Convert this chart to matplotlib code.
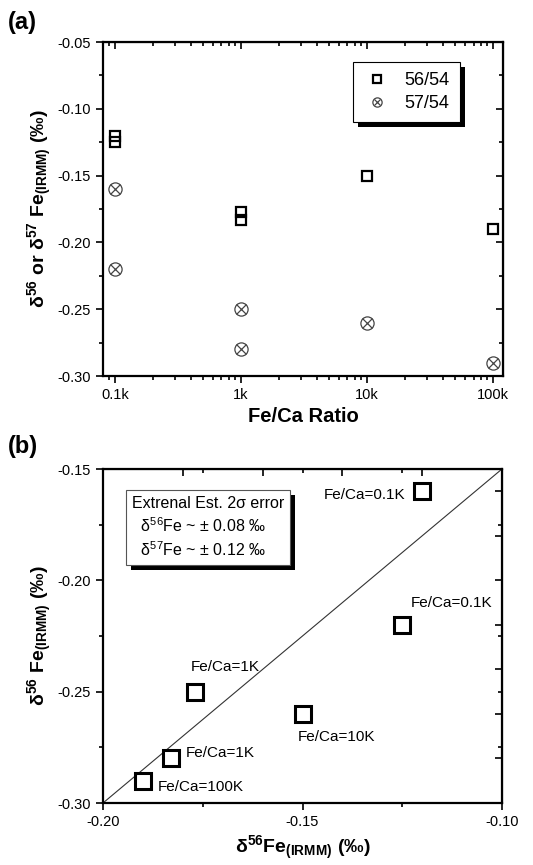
import numpy as np
import matplotlib
matplotlib.use("Agg")
import matplotlib.pyplot as plt
from matplotlib.ticker import MultipleLocator, LogLocator, NullFormatter
from matplotlib.legend_handler import HandlerTuple
from matplotlib.patches import Rectangle
from matplotlib.transforms import IdentityTransform

plt.rcParams['font.family'] = ['Liberation Sans', 'DejaVu Sans']
plt.rcParams['mathtext.default'] = 'regular'
plt.rcParams['axes.unicode_minus'] = False

# panel (a): delta values vs Fe/Ca ratio
ratio_56 = [100, 100, 1000, 1000, 10000, 100000]
d56 = [-0.120, -0.125, -0.177, -0.183, -0.150, -0.190]
ratio_57 = [100, 100, 1000, 1000, 10000, 100000]
d57 = [-0.160, -0.220, -0.250, -0.280, -0.260, -0.290]
ratio_ticks = [100, 1000, 10000, 100000]
ratio_labels = ['0.1k', '1k', '10k', '100k']

# panel (b): comparison
b_x = [-0.120, -0.125, -0.177, -0.150, -0.183, -0.190]
b_y = [-0.160, -0.220, -0.250, -0.260, -0.280, -0.290]
b_labels = ['Fe/Ca=0.1K', 'Fe/Ca=0.1K', 'Fe/Ca=1K', 'Fe/Ca=10K', 'Fe/Ca=1K', 'Fe/Ca=100K']
# label offsets in pixels (dx, dy, ha)
b_offsets = [(-17, -4, 'right'), (8, 22, 'left'), (-4, 25, 'left'),
             (-5, -23, 'left'), (15, 5, 'left'), (15, -6, 'left')]
line_x = [-0.20, -0.10]
line_y = [-0.30, -0.15]

W, H = 533, 865
fig = plt.figure(figsize=(W / 100, H / 100), dpi=100)


def add_inner_ticks(ax, xminor, yminor, logx=False):
    top = ax.secondary_xaxis('top')
    right = ax.secondary_yaxis('right')
    for sec in (top, right):
        sec.tick_params(which='both', direction='in', labeltop=False,
                        labelright=False, width=1.2)
        sec.tick_params(which='major', length=5)
        sec.tick_params(which='minor', length=3)
    if logx:
        top.xaxis.set_major_locator(LogLocator(base=10))
        top.xaxis.set_minor_locator(LogLocator(base=10, subs=np.arange(2, 10)))
        top.xaxis.set_minor_formatter(NullFormatter())
    else:
        top.xaxis.set_minor_locator(MultipleLocator(xminor))
    right.yaxis.set_minor_locator(MultipleLocator(yminor))
    top.set_xticklabels([])
    right.set_yticklabels([])


def style_axes(ax):
    for s in ax.spines.values():
        s.set_linewidth(1.6)
    ax.tick_params(which='both', direction='out', width=1.2, labelsize=10.5)
    ax.tick_params(which='major', length=5)
    ax.tick_params(which='minor', length=3)


# ---------- panel (a)
ax = fig.add_axes([103 / W, 1 - 376 / H, 400 / W, 334 / H])
ax.set_xscale('log')
ax.set_xlim(80.3, 120000)
ax.set_ylim(-0.30, -0.05)
sq = ax.plot(ratio_56, d56, ls='none', marker='s', ms=7.5, mfc='none',
             mec='black', mew=1.6, label='56/54')[0]
c1 = ax.plot(ratio_57, d57, ls='none', marker='o', ms=9.5, mfc='none',
             mec='#444444', mew=0.9)[0]
c2 = ax.plot(ratio_57, d57, ls='none', marker='x', ms=6.5,
             mec='#444444', mew=0.9)[0]
ax.set_xticks(ratio_ticks)
ax.set_xticklabels(ratio_labels)
ax.xaxis.set_minor_locator(LogLocator(base=10, subs=np.arange(2, 10)))
ax.xaxis.set_minor_formatter(NullFormatter())
ax.yaxis.set_major_locator(MultipleLocator(0.05))
ax.yaxis.set_minor_locator(MultipleLocator(0.025))
ax.yaxis.set_major_formatter(plt.FuncFormatter(lambda v, p: f'{v:.2f}'))
style_axes(ax)
add_inner_ticks(ax, None, 0.025, logx=True)
ax.set_xlabel('Fe/Ca Ratio', fontsize=14.5, fontweight='bold', labelpad=4)
ax.set_ylabel(r'$\delta^{56}$ or $\delta^{57}$ Fe$_{(IRMM)}$ (‰)',
              fontsize=14, fontweight='bold', labelpad=3)
leg = ax.legend([sq, (c1, c2)], ['56/54', '57/54'],
                handler_map={tuple: HandlerTuple(ndivide=1)},
                loc='upper left', bbox_to_anchor=(0.625, 0.94),
                borderaxespad=0, fontsize=13, frameon=True, fancybox=False,
                edgecolor='black', framealpha=1, handlelength=1.6,
                handletextpad=0.7, borderpad=0.55, labelspacing=0.35,
                markerscale=0.7)
leg.get_frame().set_linewidth(0.8)
leg.set_zorder(6)
fig.text(8 / W, 1 - 22 / H, '(a)', fontsize=17, fontweight='bold', va='center')

# ---------- panel (b)
bx = fig.add_axes([103 / W, 1 - 803 / H, 399 / W, 334 / H])
bx.set_xlim(-0.20, -0.10)
bx.set_ylim(-0.30, -0.15)
bx.plot(line_x, line_y, color='#333333', lw=0.8)
bx.plot(b_x, b_y, ls='none', marker='s', ms=11.5, mfc='none',
        mec='black', mew=2.2, zorder=3)
for xv, yv, lab, (dx, dy, ha) in zip(b_x, b_y, b_labels, b_offsets):
    bx.annotate(lab, (xv, yv), xytext=(dx * 0.72, dy * 0.72),
                textcoords='offset points', ha=ha, va='center', fontsize=11)
bx.xaxis.set_major_locator(MultipleLocator(0.05))
bx.xaxis.set_minor_locator(MultipleLocator(0.025))
bx.yaxis.set_major_locator(MultipleLocator(0.05))
bx.yaxis.set_minor_locator(MultipleLocator(0.025))
bx.xaxis.set_major_formatter(plt.FuncFormatter(lambda v, p: f'{v:.2f}'))
bx.yaxis.set_major_formatter(plt.FuncFormatter(lambda v, p: f'{v:.2f}'))
style_axes(bx)
add_inner_ticks(bx, 0.025, 0.025)
bx.set_xlabel(r'$\delta^{56}$Fe$_{(IRMM)}$ (‰)', fontsize=14,
              fontweight='bold', labelpad=4)
bx.set_ylabel(r'$\delta^{56}$ Fe$_{(IRMM)}$ (‰)', fontsize=14,
              fontweight='bold', labelpad=3)
box_txt = bx.text(0.072, 0.92,
                  'Extrenal Est. 2σ error\n'
                  r'  $\delta^{56}$Fe ~ ± 0.08 ‰' '\n'
                  r'  $\delta^{57}$Fe ~ ± 0.12 ‰',
                  transform=bx.transAxes, ha='left', va='top', fontsize=11.5,
                  linespacing=1.35,
                  bbox=dict(boxstyle='square,pad=0.35', fc='white',
                            ec='#555555', lw=0.8), zorder=6)
fig.text(8 / W, 1 - 447 / H, '(b)', fontsize=17, fontweight='bold', va='center')

# black drop shadows behind the legend and the text box
fig.canvas.draw()
for owner, patch in ((ax, leg.get_frame()), (bx, box_txt.get_bbox_patch())):
    bb = patch.get_window_extent()
    shadow = Rectangle((bb.x0 + 5, bb.y0 - 5), bb.width, bb.height,
                       transform=IdentityTransform(), fc='black', ec='none',
                       zorder=5, clip_on=False)
    owner.add_artist(shadow)

fig.savefig('out.png', dpi=100)
